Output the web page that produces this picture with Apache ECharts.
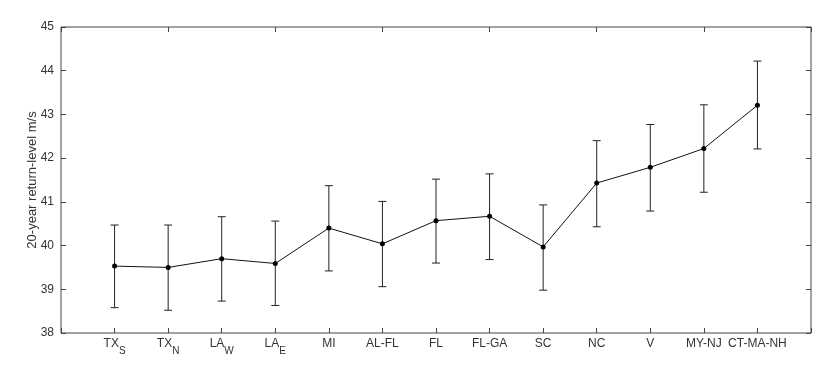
<!DOCTYPE html>
<html>
<head>
<meta charset="utf-8">
<script src="https://cdn.jsdelivr.net/npm/echarts@6/dist/echarts.min.js"></script>
<style>
  html, body { margin: 0; padding: 0; background: #fff; }
  #chart { width: 830px; height: 374px; }
</style>
</head>
<body>
<div id="chart"></div>
<script>
// regions, with blank slots at both ends for padding
const categories = ["", "TX{s|S}", "TX{s|N}", "LA{s|W}", "LA{s|E}", "MI", "AL-FL", "FL", "FL-GA", "SC", "NC", "V", "MY-NJ", "CT-MA-NH", ""];
const returnLevel = [null, 39.53, 39.50, 39.70, 39.59, 40.40, 40.04, 40.57, 40.67, 39.97, 41.43, 41.79, 42.22, 43.21, null];
const lowerBound = [null, 38.58, 38.52, 38.73, 38.63, 39.42, 39.06, 39.60, 39.68, 38.98, 40.43, 40.79, 41.22, 42.21, null];
const upperBound = [null, 40.47, 40.47, 40.66, 40.56, 41.37, 41.01, 41.52, 41.64, 40.93, 42.40, 42.77, 43.22, 44.22, null];
const yTicks = [38, 39, 40, 41, 42, 43, 44, 45];

const font = "Liberation Sans";
const axisColor = "#444";

const errorData = [];
categories.forEach((c, i) => {
  if (returnLevel[i] != null) errorData.push([i, lowerBound[i], upperBound[i]]);
});

const chart = echarts.init(document.getElementById("chart"));
chart.setOption({
  animation: false,
  textStyle: { fontFamily: font },
  grid: { left: 61, right: 19, top: 27, bottom: 41, show: true, borderColor: axisColor, borderWidth: 1 },
  xAxis: [
    {
      type: "category",
      data: categories,
      boundaryGap: false,
      axisLine: { show: false },
      axisTick: { inside: true, length: 5, lineStyle: { color: axisColor } },
      axisLabel: {
        interval: 0,
        margin: 5,
        color: "#333",
        fontSize: 12,
        formatter: v => v.indexOf("{") >= 0 ? "{m|" + v.replace("{s|", "}{s|") : "{m|" + v + "}",
        rich: {
          m: { fontSize: 12, lineHeight: 14, verticalAlign: "top", fontFamily: font, color: "#333" },
          s: { fontSize: 10, lineHeight: 18, verticalAlign: "bottom", fontFamily: font, color: "#333" }
        }
      },
      splitLine: { show: false }
    },
    {
      type: "category",
      data: categories,
      boundaryGap: false,
      position: "top",
      axisLine: { show: false },
      axisTick: { inside: true, length: 5, lineStyle: { color: axisColor } },
      axisLabel: { show: false }
    }
  ],
  yAxis: [
    {
      type: "value",
      min: yTicks[0],
      max: yTicks[yTicks.length - 1],
      interval: 1,
      name: "20-year return-level m/s",
      nameLocation: "middle",
      nameGap: 22,
      nameMoveOverlap: false,
      nameRotate: 90,
      nameTextStyle: { fontSize: 13, color: "#333", fontFamily: font },
      axisLine: { show: false },
      axisTick: { show: true, inside: true, length: 5, lineStyle: { color: axisColor } },
      axisLabel: { margin: 7, fontSize: 12, color: "#333" },
      splitLine: { show: false }
    },
    {
      type: "value",
      position: "right",
      min: yTicks[0],
      max: yTicks[yTicks.length - 1],
      interval: 1,
      axisLine: { show: false },
      axisTick: { show: true, inside: true, length: 5, lineStyle: { color: axisColor } },
      axisLabel: { show: false },
      splitLine: { show: false }
    }
  ],
  series: [
    {
      type: "custom",
      data: errorData,
      z: 2,
      renderItem: (params, api) => {
        const x = api.value(0);
        const lo = api.coord([x, api.value(1)]);
        const hi = api.coord([x, api.value(2)]);
        const w = 4;
        const style = { stroke: "#222", lineWidth: 1 };
        return {
          type: "group",
          children: [
            { type: "line", shape: { x1: lo[0], y1: lo[1], x2: hi[0], y2: hi[1] }, style },
            { type: "line", shape: { x1: lo[0] - w, y1: lo[1], x2: lo[0] + w, y2: lo[1] }, style },
            { type: "line", shape: { x1: hi[0] - w, y1: hi[1], x2: hi[0] + w, y2: hi[1] }, style }
          ]
        };
      }
    },
    {
      type: "line",
      data: returnLevel,
      z: 3,
      symbol: "circle",
      symbolSize: 5,
      lineStyle: { color: "#111", width: 1 },
      itemStyle: { color: "#000" }
    }
  ]
});
</script>
</body>
</html>
